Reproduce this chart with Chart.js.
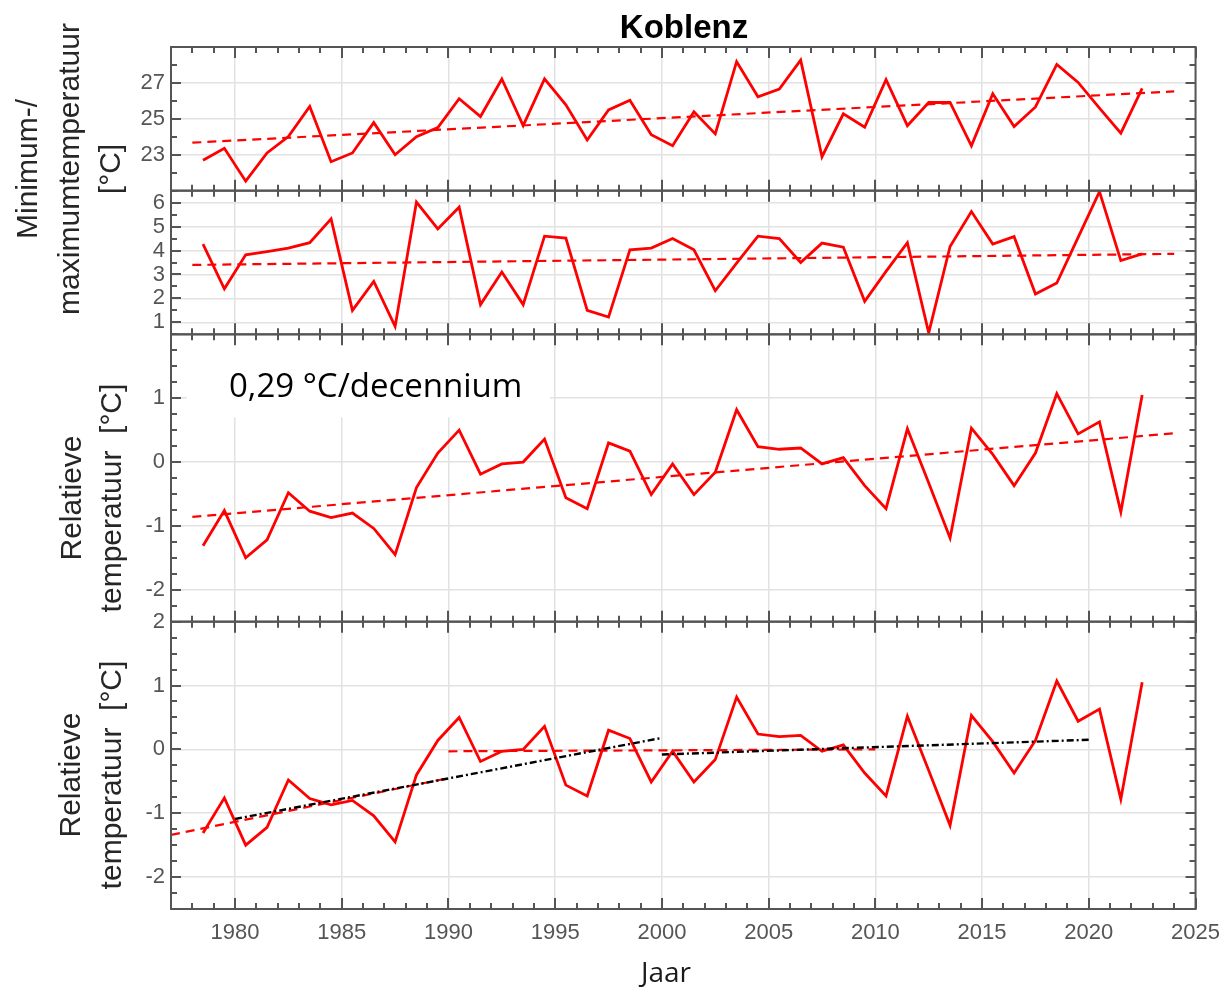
<!DOCTYPE html>
<html lang="nl">
<head>
<meta charset="utf-8">
<title>Koblenz</title>
<script src="https://cdn.jsdelivr.net/npm/chart.js@4.4.1/dist/chart.umd.min.js"></script>
<style>
  html, body { margin: 0; padding: 0; background: #fff; }
  #wrap { position: relative; width: 1231px; height: 988px; }
</style>
</head>
<body>
<div id="wrap"><canvas id="chart"></canvas></div>
<script>
/* ════════════════════════════════════════════════════
   KOBLENZ — temperatuurreeksen, vier gestapelde panelen
   ════════════════════════════════════════════════════ */

/* ─── Data ───────────────────────────────────────────── */
const YEARS = [
  1978.5, 1979.5, 1980.5, 1981.5, 1982.5, 1983.5, 1984.5, 1985.5, 1986.5, 1987.5,
  1988.5, 1989.5, 1990.5, 1991.5, 1992.5, 1993.5, 1994.5, 1995.5, 1996.5, 1997.5,
  1998.5, 1999.5, 2000.5, 2001.5, 2002.5, 2003.5, 2004.5, 2005.5, 2006.5, 2007.5,
  2008.5, 2009.5, 2010.5, 2011.5, 2012.5, 2013.5, 2014.5, 2015.5, 2016.5, 2017.5,
  2018.5, 2019.5, 2020.5, 2021.5, 2022.5,
];

// bovenste paneel: maximumtemperatuur [°C]
const T_MAX = [
  22.69, 23.36, 21.53, 23.10, 24.01, 25.69, 22.61, 23.10, 24.79, 23.00,
  24.01, 24.51, 26.12, 25.13, 27.22, 24.62, 27.22, 25.78, 23.82, 25.50,
  26.03, 24.12, 23.50, 25.39, 24.16, 28.18, 26.23, 26.66, 28.27, 22.89,
  25.28, 24.53, 27.18, 24.62, 25.91, 25.91, 23.50, 26.40, 24.57, 25.66,
  28.03, 27.03, 25.60, 24.20, 26.70,
];

// tweede paneel: minimumtemperatuur [°C]
const T_MIN = [
  4.27, 2.40, 3.82, 3.95, 4.10, 4.33, 5.32, 1.50, 2.71, 0.83,
  6.02, 4.90, 5.81, 1.74, 3.10, 1.74, 4.60, 4.52, 1.50, 1.22,
  4.03, 4.10, 4.50, 4.03, 2.32, 3.47, 4.60, 4.50, 3.50, 4.31,
  4.14, 1.88, 3.13, 4.33, 0.56, 4.17, 5.63, 4.27, 4.58, 2.18,
  2.64, 4.55, 6.46, 3.58, 3.86,
];

// derde en vierde paneel: relatieve temperatuur [°C]
const T_REL = [
  -1.31, -0.76, -1.50, -1.22, -0.48, -0.77, -0.87, -0.80, -1.04, -1.45,
  -0.40, 0.14, 0.50, -0.19, -0.03, 0.00, 0.36, -0.56, -0.73, 0.30,
  0.17, -0.51, -0.03, -0.51, -0.16, 0.82, 0.24, 0.20, 0.22, -0.03,
  0.07, -0.37, -0.73, 0.52, -0.33, -1.19, 0.53, 0.12, -0.37, 0.14,
  1.07, 0.44, 0.63, -0.78, 1.05,
];

/* ─── Trendlijnen (begin- en eindpunt) ───────────────── */
const TREND_X = [1978, 2024];
const TREND_MAX = [23.67, 26.53];
const TREND_MIN = [3.40, 3.86];
const TREND_REL = [-0.86, 0.45];

// vierde paneel: deelperiodes
const SEG_RED_A_X = [1977, 1990];
const SEG_RED_A_Y = [-1.34, -0.45];
const SEG_RED_B_X = [1990, 2010];
const SEG_RED_B_Y = [-0.03, 0.0];
const SEG_BLK_A_X = [1980, 2000];
const SEG_BLK_A_Y = [-1.09, 0.18];
const SEG_BLK_B_X = [2000, 2020];
const SEG_BLK_B_Y = [-0.08, 0.15];

/* ─── Assen ──────────────────────────────────────────── */
const X_RANGE = [1977, 2025];
const X_TICKS = [1980, 1985, 1990, 1995, 2000, 2005, 2010, 2015, 2020, 2025];

const MAX_RANGE = [21, 29];
const MAX_TICKS = [23, 25, 27];
const MIN_RANGE = [0.5, 6.5];
const MIN_TICKS = [1, 2, 3, 4, 5, 6];
const REL_RANGE = [-2.5, 2];
const REL_TICKS = [-2, -1, 0, 1];
const REL2_TICKS = [-2, -1, 0, 1, 2];

/* ─── Teksten ────────────────────────────────────────── */
const TITLE = "Koblenz";
const X_TITLE = "Jaar";
const Y_TITLE_TOP = ["Minimum-/", "maximumtemperatuur", "[°C]"];
const Y_TITLE_REL = ["Relatieve", "temperatuur  [°C]"];
const RATE_LABEL = "0,29 °C/decennium";

/* ─── Stijl ──────────────────────────────────────────── */
const RED = "#ff0000";
const GRID = "#e2e2e2";
const FRAME = "#555555";
const TICK_TEXT = "#555555";
const SANS = '"Liberation Sans", Arial, sans-serif';
const SOFT = '"Open Sans", "Noto Sans", sans-serif';

function pairs(xs, ys) {
  return xs.map((x, i) => ({ x, y: ys[i] }));
}

function series(label, ys, axis) {
  return {
    label, yAxisID: axis, data: pairs(YEARS, ys),
    borderColor: RED, borderWidth: 2.8, pointRadius: 0, tension: 0,
  };
}

function dashed(label, xs, ys, axis) {
  return {
    label, yAxisID: axis, data: pairs(xs, ys),
    borderColor: RED, borderWidth: 2.2, borderDash: [9, 6], pointRadius: 0,
  };
}

function dashDot(label, xs, ys, axis) {
  return {
    label, yAxisID: axis, data: pairs(xs, ys),
    borderColor: "#000000", borderWidth: 2.4, borderDash: [7, 3, 2, 3], pointRadius: 0,
  };
}

function yScale(range, ticks, weight, step) {
  return {
    type: "linear",
    position: "left",
    stack: "panels",
    stackWeight: weight,
    min: range[0],
    max: range[1],
    minorStep: step,
    afterBuildTicks: (s) => { s.ticks = ticks.map((v) => ({ value: v })); },
    afterFit: (s) => { s.width = 171; },
    grid: { color: GRID, lineWidth: 1.5, drawTicks: false },
    border: { display: false },
    ticks: {
      color: TICK_TEXT, padding: 6, autoSkip: false,
      font: { family: SANS, size: 22 },
      callback: (v) => String(v),
    },
  };
}

/* ─── Kaders, tickstreepjes en teksten ───────────────── */
const PANEL_IDS = ["yMax", "yMin", "yRel", "yRel2"];

const decor = {
  id: "decor",
  beforeDatasetsDraw(chart) {
    // wit vlak achter de trendtekst, over het raster heen
    const { ctx } = chart;
    const s = chart.scales.yRel;
    ctx.save();
    ctx.fillStyle = "#ffffff";
    ctx.fillRect(187, s.top + 1, 363, 82);
    ctx.restore();
  },
  afterDraw(chart) {
    const { ctx, chartArea } = chart;
    const xs = chart.scales.x;
    const left = chartArea.left, right = chartArea.right;
    ctx.save();
    ctx.strokeStyle = FRAME;
    ctx.lineWidth = 2;

    PANEL_IDS.forEach((id) => {
      const s = chart.scales[id];
      const top = s.top, bottom = s.bottom;
      ctx.beginPath();
      // tickjes op boven- en onderrand
      for (let yr = X_RANGE[0]; yr <= X_RANGE[1]; yr++) {
        const px = Math.round(xs.getPixelForValue(yr));
        const len = yr % 5 === 0 ? 11 : 6;
        ctx.moveTo(px, top); ctx.lineTo(px, top + len);
        ctx.moveTo(px, bottom); ctx.lineTo(px, bottom - len);
      }
      // tickjes op linker- en rechterrand
      const step = s.options.minorStep;
      for (let v = s.min; v <= s.max + 1e-9; v += step) {
        const py = Math.round(s.getPixelForValue(v));
        const major = s.ticks.some((t) => Math.abs(t.value - v) < 1e-9);
        const len = major ? 10 : 6;
        ctx.moveTo(left, py); ctx.lineTo(left + len, py);
        ctx.moveTo(right, py); ctx.lineTo(right - len, py);
      }
      ctx.stroke();
      ctx.strokeRect(left, top, right - left, bottom - top);
    });

    // titel
    ctx.fillStyle = "#000000";
    ctx.textAlign = "center";
    ctx.textBaseline = "alphabetic";
    ctx.font = "bold 33px " + SANS;
    ctx.fillText(TITLE, 684, 38);

    // x-as titel
    ctx.fillStyle = "#1a1a1a";
    ctx.font = "28px " + SOFT;
    ctx.fillText(X_TITLE, 666, 982);

    // trend per decennium
    ctx.fillStyle = "#000000";
    ctx.textAlign = "left";
    ctx.font = "33px " + SOFT;
    ctx.fillText(RATE_LABEL, 229, 397);

    // y-as titels
    ctx.fillStyle = "#262626";
    ctx.font = "30px " + SANS;
    ctx.textAlign = "center";
    const vText = (lines, xs, cy) => {
      lines.forEach((t, i) => {
        ctx.save();
        ctx.translate(xs[i], cy);
        ctx.rotate(-Math.PI / 2);
        ctx.fillText(t, 0, 0);
        ctx.restore();
      });
    };
    vText(Y_TITLE_TOP, [37, 79, 120], 169);
    vText(Y_TITLE_REL, [81, 121], 498);
    vText(Y_TITLE_REL, [80, 121], 775);
    ctx.restore();
  },
};

/* ─── Grafiek ────────────────────────────────────────── */
function initChart() {
  const ctx = document.getElementById("chart").getContext("2d");
  window._chart = new Chart(ctx, {
    type: "line",
    data: {
      datasets: [
        series("Tmax", T_MAX, "yMax"),
        dashed("Trend Tmax", TREND_X, TREND_MAX, "yMax"),
        series("Tmin", T_MIN, "yMin"),
        dashed("Trend Tmin", TREND_X, TREND_MIN, "yMin"),
        series("Relatief", T_REL, "yRel"),
        dashed("Trend relatief", TREND_X, TREND_REL, "yRel"),
        dashDot("Trend 1980-2000", SEG_BLK_A_X, SEG_BLK_A_Y, "yRel2"),
        dashDot("Trend 2000-2020", SEG_BLK_B_X, SEG_BLK_B_Y, "yRel2"),
        dashed("Trend tot 1990", SEG_RED_A_X, SEG_RED_A_Y, "yRel2"),
        dashed("Trend 1990-2010", SEG_RED_B_X, SEG_RED_B_Y, "yRel2"),
        series("Relatief (deelperiodes)", T_REL, "yRel2"),
      ],
    },
    options: {
      responsive: true,
      maintainAspectRatio: false,
      animation: false,
      devicePixelRatio: 1,
      layout: { padding: { top: 47, right: 34, left: 0, bottom: 0 } },
      plugins: { legend: { display: false }, tooltip: { enabled: false } },
      // gestapelde y-assen worden van onder naar boven geplaatst
      scales: {
        x: {
          type: "linear",
          min: X_RANGE[0],
          max: X_RANGE[1],
          afterBuildTicks: (s) => { s.ticks = X_TICKS.map((v) => ({ value: v })); },
          afterFit: (s) => { s.height = 79; },
          grid: { color: GRID, lineWidth: 1.5, drawTicks: false },
          border: { display: false },
          ticks: {
            color: TICK_TEXT, padding: 11, maxRotation: 0, autoSkip: false,
            font: { family: SANS, size: 22 },
            callback: (v) => String(v),
          },
        },
        yRel2: yScale(REL_RANGE, REL2_TICKS, 2, 0.25),
        yRel: yScale(REL_RANGE, REL_TICKS, 2, 0.25),
        yMin: yScale(MIN_RANGE, MIN_TICKS, 1, 0.5),
        yMax: yScale(MAX_RANGE, MAX_TICKS, 1, 1),
      },
    },
    plugins: [decor],
  });
}

window.onload = () => {
  initChart();
};
</script>
</body>
</html>
